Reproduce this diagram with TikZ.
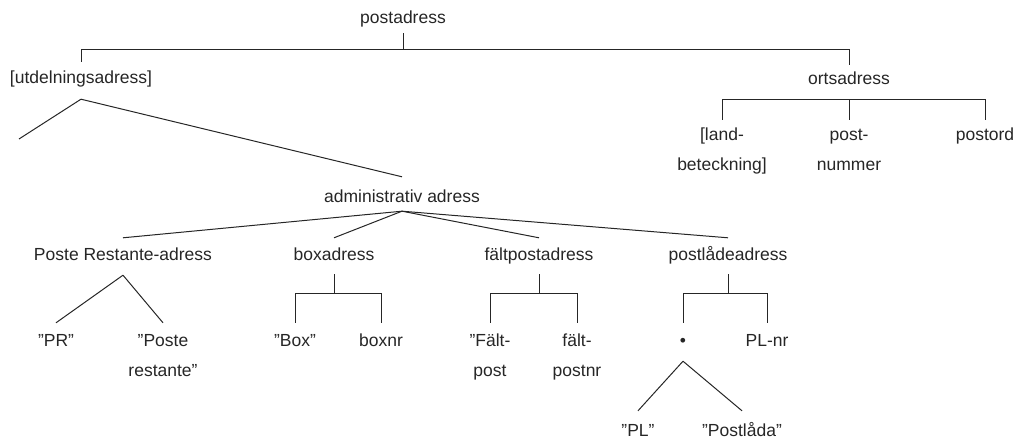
\documentclass[tikz,border=0pt]{standalone}
\usepackage{fontspec}
\setmainfont{Liberation Sans}
\usepackage{tikz}
\usetikzlibrary{calc}

% two-line label, baseline on the first line
\newcommand{\twoline}[2]{\begin{tabular}[t]{@{}c@{}}#1\\#2\end{tabular}}

\begin{document}
\begin{tikzpicture}[
    x=1pt, y=-1pt,
    lbl/.style={anchor=base, inner sep=0pt, text height=24pt, text depth=13pt,
      text=black!85, font=\fontsize{17.5pt}{30pt}\selectfont},
    br/.style={line width=1pt, draw=black!85}
  ]
    \useasboundingbox (0,0) rectangle (1015,438);
    % top level
    \node[lbl, text depth=9pt] (post) at (403,24) {postadress};
    \node[lbl, text height=22pt, text depth=15pt] (utd) at (81,84) {[utdelningsadress]};
    \node[lbl, text height=20pt, text depth=14pt] (orts) at (849,85) {ortsadress};
    \node[lbl, text height=21pt] (land) at (722,141) {\twoline{[land-}{beteckning]}};
    \node[lbl, text height=21pt] (pnum) at (849,141) {\twoline{post-}{nummer}};
    \node[lbl, text height=21pt] (pord) at (985,141) {postord};
    \node[lbl, text height=26pt, text depth=8pt] (adm) at (402,203) {administrativ adress};
    \coordinate (cut) at (19,139);
    % address types
    \node[lbl, text height=23pt, text depth=14pt] (pra) at (123,261) {Poste Restante-adress};
    \node[lbl, text height=23pt] (boxadr) at (334,261) {boxadress};
    \node[lbl, text height=23pt] (faltadr) at (539,261) {fältpostadress};
    \node[lbl, text height=23pt] (pladr) at (728,261) {postlådeadress};
    % leaves
    \node[lbl] (prq) at (56,347) {”PR”};
    \node[lbl] (prl) at (163,347) {\twoline{”Poste}{restante”}};
    \node[lbl] (boxq) at (295,347) {”Box”};
    \node[lbl] (boxnr) at (381,347) {boxnr};
    \node[lbl] (faltq) at (490,347) {\twoline{”Fält-}{post}};
    \node[lbl] (faltnr) at (577,347) {\twoline{fält-}{postnr}};
    \node[lbl, text depth=14pt] (dot) at (683,347) {•};
    \node[lbl] (plnr) at (767,347) {PL-nr};
    \node[lbl, text height=25pt] (plq) at (638,436) {”PL”};
    \node[lbl, text height=25pt] (pll) at (742,436) {”Postlåda”};

    % brackets
    \coordinate (topbar) at ($(post.south)+(0,16)$);
    \draw[br] (post.south) -- (topbar);
    \draw[br] (utd.north) |- (topbar) -| (orts.north);
    \draw[br] (land.north) |- (orts.south) -| (pord.north);
    \draw[br] (orts.south) -- (pnum.north);
    \foreach \p/\a/\b in {boxadr/boxq/boxnr, faltadr/faltq/faltnr, pladr/dot/plnr} {
      \coordinate (\p bar) at ($(\p.south)+(0,19)$);
      \draw[br] (\p.south) -- (\p bar);
      \draw[br] (\a.north) |- (\p bar) -| (\b.north);
    }
    % slanted branches
    \draw[br] (utd.south) -- (cut);
    \draw[br] (utd.south) -- (adm.north);
    \foreach \c in {pra,boxadr,faltadr,pladr}
      \draw[br] (adm.south) -- (\c.north);
    \draw[br] (pra.south) -- (prq.north);
    \draw[br] (pra.south) -- (prl.north);
    \draw[br] (dot.south) -- (plq.north);
    \draw[br] (dot.south) -- (pll.north);
\end{tikzpicture}
\end{document}
